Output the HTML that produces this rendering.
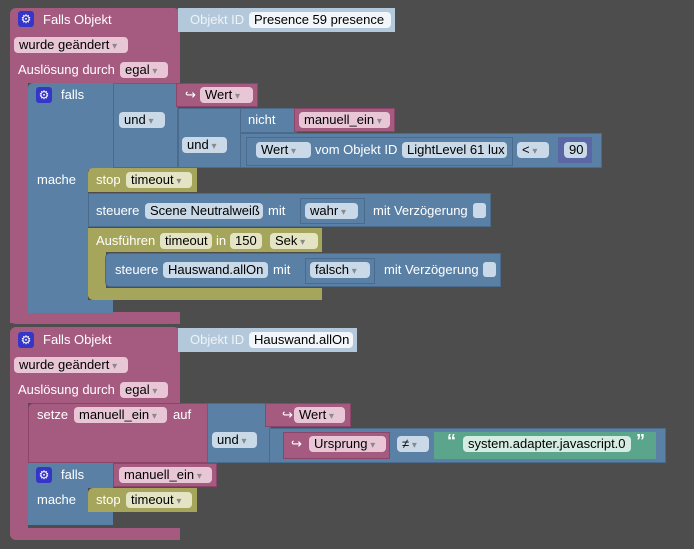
<!DOCTYPE html>
<html><head><meta charset="utf-8"><style>
body{margin:0;width:694px;height:549px;background:#4d4d4d;overflow:hidden;position:relative;font-family:"Liberation Sans",Arial,sans-serif;font-size:13px}
div{position:absolute;box-sizing:border-box}
.p{background:#a55b80}
.b{background:#5b80a5}
.g{background:#a5a55b}
.o{background:#b3c8da}
.bo{border:1px solid #4a6b8c}
.po{border:1px solid #8a4568}
.t{color:#fff;line-height:16px;white-space:nowrap}
.f{border-radius:4px;color:#000;line-height:16px;height:16px;padding:0 5px;white-space:nowrap}
.fp{background:#e8c6d6}
.fb{background:#c9d9e8}
.fg{background:#e4e4c4}
.fw{background:#f2f5f9}
.fs{background:#d5ece2}
.a::after{content:" \25BE";color:#8a8a8a;font-size:10px}
.gear{width:16px;height:16px;background:#3535c8;border-radius:3px;color:#fff;font-size:12px;line-height:16px;text-align:center}
.cb{width:13px;height:15px;background:#c9d9e8;border-radius:3px}
</style></head><body>

<!-- block 1 -->
<div class="p" style="left:10px;top:8px;width:170px;height:75px;border-radius:6px 6px 0 0"></div>
<div class="p" style="left:10px;top:83px;width:18px;height:240px"></div>
<div class="p" style="left:10px;top:312px;width:170px;height:12px;border-radius:0 0 0 6px"></div>
<div class="gear" style="left:18px;top:11px">&#9881;</div>
<div class="t" style="left:43px;top:12px">Falls Objekt</div>
<div class="o" style="left:178px;top:8px;width:217px;height:24px"></div>
<div class="t" style="left:190px;top:12px;color:#eef3f8">Objekt ID</div>
<div class="f fw" style="left:249px;top:12px;width:142px">Presence 59 presence</div>
<div class="f fp a" style="left:14px;top:37px;width:114px">wurde geändert</div>
<div class="t" style="left:18px;top:62px">Auslösung durch</div>
<div class="f fp a" style="left:120px;top:62px;width:48px">egal</div>

<!-- falls -->
<div class="b" style="left:28px;top:83px;width:85px;height:87px;border-radius:5px 0 0 0"></div>
<div class="b" style="left:28px;top:170px;width:60px;height:143px"></div>
<div class="b" style="left:28px;top:300px;width:85px;height:13px;border-radius:0 0 0 5px"></div>
<div class="gear" style="left:36px;top:87px">&#9881;</div>
<div class="t" style="left:61px;top:87px">falls</div>
<div class="t" style="left:37px;top:172px">mache</div>
<div class="b bo" style="left:113px;top:83px;width:65px;height:85px"></div>
<div class="f fb a" style="left:119px;top:112px;width:46px">und</div>
<div class="p po" style="left:176px;top:83px;width:82px;height:24px"></div>
<div class="t" style="left:185px;top:87px">&#8618;</div>
<div class="f fp a" style="left:200px;top:87px;width:53px">Wert</div>
<div class="b bo" style="left:178px;top:108px;width:64px;height:60px"></div>
<div class="f fb a" style="left:182px;top:137px;width:45px">und</div>
<div class="b bo" style="left:240px;top:108px;width:57px;height:25px"></div>
<div class="t" style="left:248px;top:112px">nicht</div>
<div class="p po" style="left:294px;top:108px;width:101px;height:24px"></div>
<div class="f fp a" style="left:299px;top:112px;width:91px">manuell_ein</div>
<div class="b bo" style="left:240px;top:133px;width:362px;height:35px"></div>
<div class="b bo" style="left:246px;top:137px;width:267px;height:29px"></div>
<div class="f fb a" style="left:256px;top:142px;width:55px">Wert</div>
<div class="t" style="left:315px;top:142px">vom Objekt ID</div>
<div class="f fb" style="left:402px;top:142px;width:105px">LightLevel 61 lux</div>
<div class="f fb a" style="left:517px;top:142px;width:32px">&lt;</div>
<div style="left:558px;top:137px;width:34px;height:26px;background:#5b67a5"></div>
<div class="f fb" style="left:564px;top:142px;width:23px">90</div>

<div class="g" style="left:88px;top:168px;width:109px;height:24px;border-radius:5px 0 0 0"></div>
<div class="t" style="left:96px;top:172px">stop</div>
<div class="f fg a" style="left:126px;top:172px;width:66px">timeout</div>

<div class="b bo" style="left:88px;top:193px;width:403px;height:34px"></div>
<div class="t" style="left:96px;top:203px">steuere</div>
<div class="f fb" style="left:145px;top:203px;width:118px">Scene Neutralweiß</div>
<div class="t" style="left:268px;top:203px">mit</div>
<div class="b bo" style="left:300px;top:198px;width:65px;height:26px"></div>
<div class="f fb a" style="left:305px;top:203px;width:53px">wahr</div>
<div class="t" style="left:373px;top:203px">mit Verzögerung</div>
<div class="cb" style="left:473px;top:203px"></div>

<div class="g" style="left:88px;top:228px;width:234px;height:24px"></div>
<div class="g" style="left:88px;top:252px;width:18px;height:40px"></div>
<div class="g" style="left:88px;top:288px;width:234px;height:12px;border-radius:0 0 0 5px"></div>
<div class="t" style="left:96px;top:233px">Ausführen</div>
<div class="f fg" style="left:160px;top:233px;width:52px">timeout</div>
<div class="t" style="left:216px;top:233px">in</div>
<div class="f fg" style="left:230px;top:233px;width:32px">150</div>
<div class="f fg a" style="left:270px;top:233px;width:48px">Sek</div>

<div class="b bo" style="left:105px;top:253px;width:396px;height:34px;border-radius:5px 0 0 5px"></div>
<div class="t" style="left:115px;top:262px">steuere</div>
<div class="f fb" style="left:163px;top:262px;width:105px">Hauswand.allOn</div>
<div class="t" style="left:273px;top:262px">mit</div>
<div class="b bo" style="left:305px;top:258px;width:70px;height:26px"></div>
<div class="f fb a" style="left:310px;top:262px;width:60px">falsch</div>
<div class="t" style="left:384px;top:262px">mit Verzögerung</div>
<div class="cb" style="left:483px;top:262px"></div>

<!-- block 2 -->
<div class="p" style="left:10px;top:327px;width:170px;height:76px;border-radius:6px 6px 0 0"></div>
<div class="p" style="left:10px;top:403px;width:18px;height:130px"></div>
<div class="p" style="left:10px;top:528px;width:170px;height:12px;border-radius:0 0 0 6px"></div>
<div class="gear" style="left:18px;top:332px">&#9881;</div>
<div class="t" style="left:43px;top:332px">Falls Objekt</div>
<div class="o" style="left:178px;top:328px;width:179px;height:24px"></div>
<div class="t" style="left:190px;top:332px;color:#eef3f8">Objekt ID</div>
<div class="f fw" style="left:249px;top:332px;width:104px">Hauswand.allOn</div>
<div class="f fp a" style="left:14px;top:357px;width:114px">wurde geändert</div>
<div class="t" style="left:18px;top:382px">Auslösung durch</div>
<div class="f fp a" style="left:120px;top:382px;width:48px">egal</div>

<div class="p po" style="left:28px;top:403px;width:181px;height:60px;border-radius:5px 0 0 0"></div>
<div class="t" style="left:37px;top:407px">setze</div>
<div class="f fp a" style="left:74px;top:407px;width:93px">manuell_ein</div>
<div class="t" style="left:173px;top:407px">auf</div>
<div class="b bo" style="left:207px;top:403px;width:64px;height:60px"></div>
<div class="f fb a" style="left:212px;top:432px;width:45px">und</div>
<div class="p po" style="left:265px;top:403px;width:86px;height:24px"></div>
<div class="t" style="left:282px;top:407px">&#8618;</div>
<div class="f fp a" style="left:294px;top:407px;width:51px">Wert</div>
<div class="b bo" style="left:269px;top:428px;width:397px;height:35px"></div>
<div class="p po" style="left:283px;top:432px;width:107px;height:27px"></div>
<div class="t" style="left:291px;top:436px">&#8618;</div>
<div class="f fp a" style="left:309px;top:436px;width:77px">Ursprung</div>
<div class="f fb a" style="left:397px;top:436px;width:32px">&#8800;</div>
<div style="left:434px;top:432px;width:222px;height:27px;background:#5ba58c"></div>
<div class="t" style="left:447px;top:433px;font-size:18px;font-weight:bold">&#8220;</div>
<div class="f fs" style="left:463px;top:436px;width:168px">system.adapter.javascript.0</div>
<div class="t" style="left:636px;top:433px;font-size:18px;font-weight:bold">&#8221;</div>

<div class="b" style="left:28px;top:463px;width:85px;height:25px"></div>
<div class="b" style="left:28px;top:488px;width:60px;height:37px"></div>
<div class="b" style="left:28px;top:512px;width:85px;height:13px;border-radius:0 0 0 5px"></div>
<div class="gear" style="left:36px;top:467px">&#9881;</div>
<div class="t" style="left:61px;top:467px">falls</div>
<div class="p po" style="left:113px;top:463px;width:104px;height:24px"></div>
<div class="f fp a" style="left:119px;top:467px;width:93px">manuell_ein</div>
<div class="t" style="left:37px;top:492px">mache</div>
<div class="g" style="left:88px;top:488px;width:109px;height:24px;border-radius:5px 0 0 0"></div>
<div class="t" style="left:96px;top:492px">stop</div>
<div class="f fg a" style="left:126px;top:492px;width:66px">timeout</div>
</body></html>
